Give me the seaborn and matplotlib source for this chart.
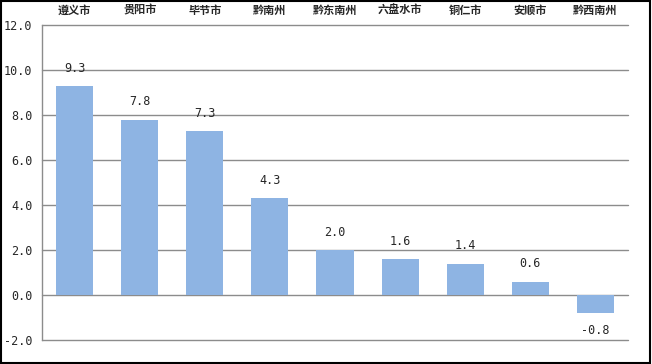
import matplotlib
matplotlib.use("Agg")
import matplotlib.pyplot as plt
import seaborn as sns
import pandas as pd
from matplotlib.patches import Rectangle

categories = ["遵义市", "贵阳市", "毕节市", "黔南州", "黔东南州", "六盘水市", "铜仁市", "安顺市", "黔西南州"]
values = [9.3, 7.8, 7.3, 4.3, 2.0, 1.6, 1.4, 0.6, -0.8]
yticks = [-2.0, 0.0, 2.0, 4.0, 6.0, 8.0, 10.0, 12.0]

sns.set_style("white")
plt.rcParams['font.family'] = ['Noto Sans CJK SC', 'DejaVu Sans']

df = pd.DataFrame({"city": categories, "value": values})

fig = plt.figure(figsize=(6.52, 3.64), dpi=100)
ax = fig.add_axes([42/652, 1 - 340/364, (628-42)/652, (340-25)/364])

sns.barplot(data=df, x="city", y="value", color="#8EB4E3", saturation=1,
            width=0.57, ax=ax, zorder=3, linewidth=0, edgecolor="none")

ax.set_ylim(-2, 12)
ax.set_xlim(-0.5, len(categories) - 0.5)
ax.set_yticks(yticks)
ax.set_yticklabels([f"{v:.1f}" for v in yticks], family="DejaVu Sans Mono", fontsize=8.5)
ax.yaxis.grid(False)
for v in yticks:
    ax.axhline(v, color="#8c8c8c", linewidth=1, zorder=1, clip_on=False)
for s in ["top", "right", "bottom"]:
    ax.spines[s].set_visible(False)
ax.spines["left"].set_color("#8c8c8c")
ax.spines["left"].set_linewidth(1)
ax.tick_params(axis="y", length=0, pad=7)

ax.xaxis.tick_top()
ax.tick_params(axis="x", length=0, pad=6)
ax.set_xticks(range(len(categories)))
ax.set_xticklabels(categories, fontsize=8, fontweight="bold")
ax.set_xlabel("")
ax.set_ylabel("")

for cont in ax.containers:
    ax.bar_label(cont, labels=[f"{v:.1f}" for v in values], padding=8,
                 family="DejaVu Sans Mono", fontsize=8.5)

fig.patches.append(Rectangle((0.002, 0.003), 0.995, 0.993, transform=fig.transFigure,
                             fill=False, edgecolor="black", linewidth=1.5))

fig.savefig("out.png", dpi=100)
